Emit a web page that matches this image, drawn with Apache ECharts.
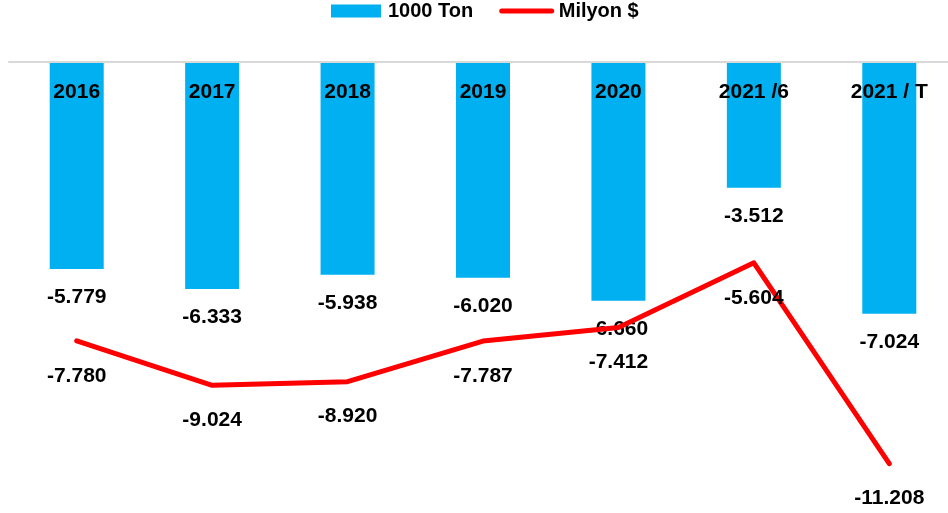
<!DOCTYPE html>
<html><head><meta charset="utf-8">
<script src="https://cdn.jsdelivr.net/npm/echarts@6/dist/echarts.min.js"></script>
<style>html,body{margin:0;padding:0;background:#fff;overflow:hidden}#c{width:957px;height:513px}</style>
</head><body><div id="c"></div>
<script>
const categories = ['2016','2017','2018','2019','2020','2021 /6','2021 / T'];
const tonValues = [-5.779,-6.333,-5.938,-6.020,-6.660,-3.512,-7.024];
const usdValues = [-7.780,-9.024,-8.920,-7.787,-7.412,-5.604,-11.208];
const fmt = v => v.value.toFixed(3);
const font = 'Liberation Sans';
const chart = echarts.init(document.getElementById('c'));
chart.setOption({
  animation:false,
  textStyle:{fontFamily:font},
  legend:{
    top:1,left:331,padding:0,itemGap:26,itemWidth:50,itemHeight:13,
    textStyle:{fontFamily:font,fontWeight:'bold',fontSize:20,color:'#000',padding:[0,0,0,2]},
    data:[{name:'1000 Ton',icon:'rect'},
          {name:'Milyon $',itemStyle:{color:'rgba(0,0,0,0)',opacity:0,borderWidth:0},lineStyle:{width:5,cap:'round'}}]
  },
  grid:{left:9,top:62,right:0,height:430,containLabel:false},
  xAxis:{
    type:'category',position:'top',data:categories,
    axisLine:{lineStyle:{color:'#D9D9D9',width:2}},
    axisTick:{show:false},
    axisLabel:{inside:true,margin:20,fontFamily:font,fontWeight:'bold',fontSize:21,color:'#000'},
    z:10
  },
  yAxis:{type:'value',min:-12,max:0,show:false,splitLine:{show:false}},
  series:[
    {name:'1000 Ton',type:'bar',data:tonValues,barWidth:54,
     itemStyle:{color:'#00B0F0'},
     label:{show:true,position:'bottom',distance:18,formatter:fmt,
       fontFamily:font,fontWeight:'bold',fontSize:21,color:'#000'}},
    {name:'Milyon $',type:'line',data:usdValues,symbol:'circle',symbolSize:1,
     itemStyle:{color:'#FF0000'},
     lineStyle:{color:'#FF0000',width:5,cap:'round',join:'round'},
     label:{show:true,position:'bottom',distance:24,formatter:fmt,
       fontFamily:font,fontWeight:'bold',fontSize:21,color:'#000'}}
  ]
});
</script></body></html>
